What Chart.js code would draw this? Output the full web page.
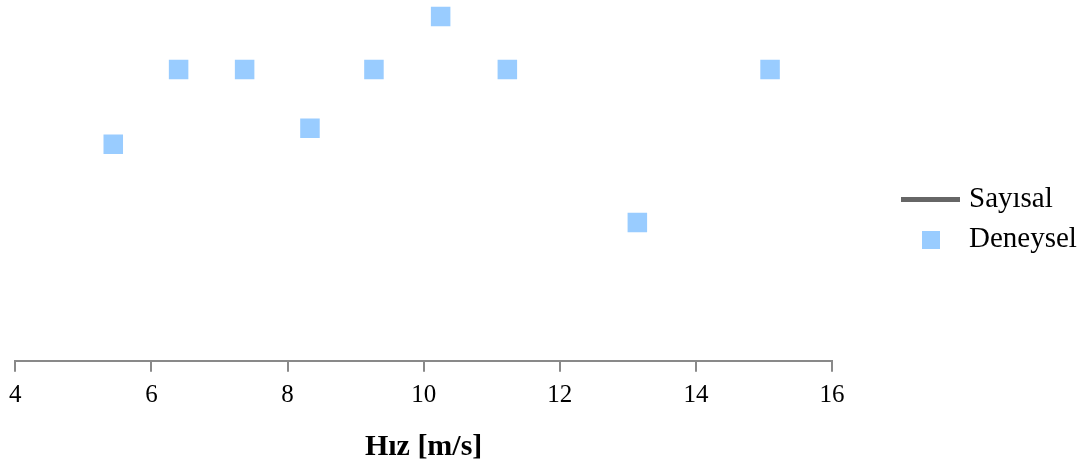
<!DOCTYPE html>
<html>
<head>
<meta charset="utf-8">
<script src="https://cdn.jsdelivr.net/npm/chart.js@4/dist/chart.umd.min.js"></script>
<style>
  html, body { margin: 0; padding: 0; background: #ffffff; }
  canvas { display: block; }
</style>
</head>
<body>
<canvas id="chart" width="1089" height="470"></canvas>
<script>
// Axis ticks for speed (m/s)
const xTicks = [4, 6, 8, 10, 12, 14, 16];

// Measured points (Deneysel)
const measuredSpeed = [5.44, 6.40, 7.37, 8.33, 9.27, 10.25, 11.23, 13.14, 15.09];
const measuredValue = [4.20, 5.65, 5.65, 4.51, 5.65, 6.68, 5.65, 2.68, 5.65];

// Numerical curve (Sayısal) – no points in this view
const numericSpeed = [];
const numericValue = [];

const seriesNames = ['Sayısal', 'Deneysel'];
const seriesColors = ['#666666', '#99CCFF'];

// Legend swatches: a thick grey line and a light-blue square
function makeSwatch(w, h, color) {
  const c = document.createElement('canvas');
  c.width = w; c.height = h;
  const g = c.getContext('2d');
  g.fillStyle = color;
  g.fillRect(0, 0, w, h);
  return c;
}
const swatches = [makeSwatch(59, 5, seriesColors[0]), makeSwatch(18, 18, seriesColors[1])];

// Moves the legend box to its place beside the plot
const legendShift = {
  id: 'legendShift',
  afterLayout(chart, args, opts) {
    const lg = chart.legend;
    if (!lg) return;
    lg.left += opts.dx; lg.right += opts.dx;
    lg.top += opts.dy; lg.bottom += opts.dy;
  }
};

const serif = 'Liberation Serif';

new Chart(document.getElementById('chart'), {
  type: 'scatter',
  data: {
    datasets: [
      {
        type: 'line',
        label: seriesNames[0],
        data: numericSpeed.map((x, i) => ({ x, y: numericValue[i] })),
        borderColor: seriesColors[0],
        backgroundColor: seriesColors[0],
        borderWidth: 4,
        pointRadius: 0,
        showLine: true
      },
      {
        label: seriesNames[1],
        data: measuredSpeed.map((x, i) => ({ x, y: measuredValue[i] })),
        pointStyle: 'rect',
        pointRadius: 13.8,
        pointHoverRadius: 13.8,
        borderWidth: 0,
        backgroundColor: seriesColors[1],
        borderColor: seriesColors[1]
      }
    ]
  },
  options: {
    responsive: false,
    animation: false,
    devicePixelRatio: 1,
    layout: { autoPadding: false, padding: { left: 15, top: 0, right: 0, bottom: 5 } },
    scales: {
      x: {
        type: 'linear',
        min: xTicks[0],
        max: xTicks[xTicks.length - 1],
        ticks: {
          stepSize: xTicks[1] - xTicks[0],
          color: '#000000',
          padding: 9,
          maxRotation: 0,
          font: { family: serif, size: 25 }
        },
        grid: {
          display: true,
          drawOnChartArea: false,
          drawTicks: true,
          tickLength: 11,
          color: '#898989',
          lineWidth: 2
        },
        border: { display: true, color: '#898989', width: 2 },
        title: {
          display: true,
          text: 'Hız [m/s]',
          color: '#000000',
          font: { family: serif, size: 30, weight: 'bold' },
          padding: { top: 9.3, bottom: 0 }
        },
        afterFit(scale) { scale.paddingRight = 257; }
      },
      y: { display: false, min: 0, max: 7 }
    },
    plugins: {
      tooltip: { enabled: false },
      legend: {
        position: 'right',
        align: 'start',
        labels: {
          usePointStyle: true,
          pointStyleWidth: 48,
          padding: 11,
          color: '#000000',
          font: { family: serif, size: 29 },
          generateLabels(chart) {
            const items = Chart.defaults.plugins.legend.labels.generateLabels(chart);
            items.forEach((it, i) => { it.pointStyle = swatches[i]; });
            return items;
          }
        }
      },
      legendShift: { dx: 63.5, dy: 174 }
    }
  },
  plugins: [legendShift]
});
</script>
</body>
</html>
